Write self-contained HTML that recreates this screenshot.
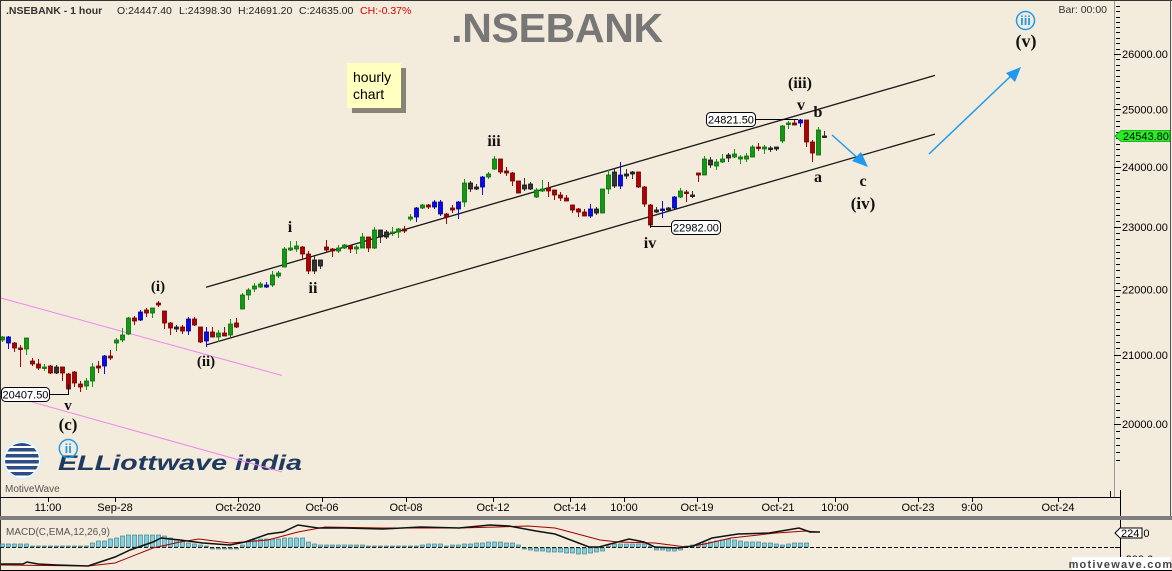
<!DOCTYPE html>
<html><head><meta charset="utf-8">
<style>
html,body{margin:0;padding:0;background:#f3ebdb;overflow:hidden;}
svg{display:block;}
text{font-family:"Liberation Sans",Arial,sans-serif;}
.ser{font-family:"Liberation Serif","Times New Roman",serif;font-weight:bold;fill:#111;}
</style></head><body>
<svg id="s" width="1172" height="571" viewBox="0 0 1172 571" xmlns="http://www.w3.org/2000/svg">
<rect width="1172" height="571" fill="#f3ebdb"/>

<!-- header -->
<text x="6" y="14" font-size="10.5" font-weight="bold" fill="#333">.NSEBANK - 1 hour</text>
<text x="117" y="14" font-size="10.5" fill="#222">O:24447.40</text>
<text x="179" y="14" font-size="10.5" fill="#222">L:24398.30</text>
<text x="238" y="14" font-size="10.5" fill="#222">H:24691.20</text>
<text x="299" y="14" font-size="10.5" fill="#222">C:24635.00</text>
<text x="360" y="14" font-size="10.5" fill="#dd0000">CH:-0.37%</text>
<text x="557" y="42" font-size="41" font-weight="bold" fill="#777" text-anchor="middle" letter-spacing="-0.3">.NSEBANK</text>
<text x="1107" y="13" font-size="10.5" fill="#333" text-anchor="end">Bar: 00:00</text>

<!-- hourly chart note -->
<rect x="352" y="68" width="54" height="45" fill="#8a8478"/>
<rect x="347" y="63" width="54" height="45" fill="#ffffc0"/>
<text x="353" y="82" font-size="14" fill="#000">hourly</text>
<text x="353" y="99" font-size="14" fill="#000">chart</text>

<!-- logos -->
<defs><clipPath id="gc"><circle cx="22" cy="460" r="17"/></clipPath></defs>
<circle cx="22" cy="460" r="20" fill="#dff0f4"/>
<circle cx="22" cy="460" r="18" fill="#ffffff"/>
<g clip-path="url(#gc)" fill="#2c4d86">
<rect x="0" y="443" width="44" height="3"/>
<rect x="0" y="448" width="44" height="3.5"/>
<rect x="0" y="454" width="44" height="3.5"/>
<rect x="0" y="460" width="44" height="3.5"/>
<rect x="0" y="466" width="44" height="3.5"/>
<rect x="0" y="472" width="44" height="3.5"/>
</g>
<text x="5" y="492" font-size="10" fill="#555">MotiveWave</text>
<text x="58" y="470" font-size="21" font-weight="bold" font-style="italic" fill="#1f3a60" textLength="244" lengthAdjust="spacingAndGlyphs">ELLiottwave india</text>

<!-- pink lines -->
<line x1="0" y1="297.7" x2="282" y2="375.5" stroke="#ee88ee" stroke-width="1"/>
<line x1="0" y1="393" x2="282" y2="472" stroke="#ee88ee" stroke-width="1"/>

<!-- channel lines -->
<line x1="206" y1="287.3" x2="935" y2="75.4" stroke="#1a1a1a" stroke-width="1.3"/>
<line x1="206" y1="345" x2="935" y2="134.1" stroke="#1a1a1a" stroke-width="1.3"/>

<g id="candles"></g>

<!-- blue arrows -->
<line x1="832" y1="135" x2="860" y2="160" stroke="#1e9bf0" stroke-width="1.5"/>
<polygon points="868,167 852,161 861,152" fill="#1e9bf0"/>
<line x1="929" y1="154" x2="1013" y2="74" stroke="#1e9bf0" stroke-width="1.5"/>
<polygon points="1021,67 1015,82 1006,73" fill="#1e9bf0"/>

<!-- price label boxes -->
<polyline points="755,119.5 798,119.5" fill="none" stroke="#000" stroke-width="1"/>
<rect x="706.5" y="112.5" width="49" height="14" rx="4" fill="#fff" stroke="#000"/>
<text x="731" y="123.5" font-size="11" text-anchor="middle" fill="#000">24821.50</text>
<polyline points="650.5,221 650.5,226.5 671,226.5" fill="none" stroke="#000" stroke-width="1"/>
<rect x="671.5" y="220.5" width="49" height="14" rx="4" fill="#fff" stroke="#000"/>
<text x="696" y="231.5" font-size="11" text-anchor="middle" fill="#000">22982.00</text>
<polyline points="50,394.5 68.5,394.5 68.5,384" fill="none" stroke="#000" stroke-width="1"/>
<rect x="1.5" y="387.5" width="48" height="14" rx="4" fill="#fff" stroke="#000"/>
<text x="25.5" y="398.5" font-size="11" text-anchor="middle" fill="#000">20407.50</text>

<!-- wave labels -->
<text class="ser" x="158" y="291" font-size="15" text-anchor="middle">(i)</text>
<text class="ser" x="206" y="366" font-size="15" text-anchor="middle">(ii)</text>
<text class="ser" x="290" y="232" font-size="16" text-anchor="middle">i</text>
<text class="ser" x="313" y="293" font-size="16" text-anchor="middle">ii</text>
<text class="ser" x="494" y="146" font-size="16" text-anchor="middle">iii</text>
<text class="ser" x="650" y="248" font-size="16" text-anchor="middle">iv</text>
<text class="ser" x="800" y="88" font-size="16" text-anchor="middle">(iii)</text>
<text class="ser" x="801" y="110" font-size="16" text-anchor="middle">v</text>
<text class="ser" x="818" y="117" font-size="16" text-anchor="middle">b</text>
<text class="ser" x="818" y="182" font-size="16" text-anchor="middle">a</text>
<text class="ser" x="863" y="186" font-size="16" text-anchor="middle">c</text>
<text class="ser" x="863" y="209" font-size="17" text-anchor="middle">(iv)</text>
<text class="ser" x="1026" y="47" font-size="18" text-anchor="middle">(v)</text>
<text class="ser" x="68" y="410" font-size="15" text-anchor="middle">v</text>
<text class="ser" x="68" y="430" font-size="17" text-anchor="middle">(c)</text>
<circle cx="68.3" cy="448.5" r="9" fill="none" stroke="#1e9bf0" stroke-width="1.5"/>
<text x="68.3" y="453" font-size="13" text-anchor="middle" font-family="Liberation Serif,serif" font-weight="bold" fill="#1e9bf0">ii</text>
<circle cx="1025.5" cy="20.5" r="9" fill="none" stroke="#1e9bf0" stroke-width="1.5"/>
<text x="1025.5" y="25" font-size="13" text-anchor="middle" font-family="Liberation Serif,serif" font-weight="bold" fill="#1e9bf0">iii</text>

<!-- right axis -->
<line x1="1114.5" y1="0" x2="1114.5" y2="497" stroke="#999" stroke-width="1"/>
<g id="yticks"></g>
<polygon points="1115,136 1121,130.5 1170,130.5 1170,141.5 1121,141.5" fill="#22ee22" stroke="#119911" stroke-width="0.8"/>
<text x="1123" y="140" font-size="11" fill="#000">24543.80</text>

<!-- frame -->
<line x1="0.5" y1="0" x2="0.5" y2="571" stroke="#333"/>
<line x1="0" y1="0.5" x2="1172" y2="0.5" stroke="#333"/>
<line x1="1170.5" y1="0" x2="1170.5" y2="516" stroke="#555"/>

<!-- x axis -->
<line x1="0" y1="497.5" x2="1121" y2="497.5" stroke="#000"/>
<line x1="1120.5" y1="490" x2="1120.5" y2="516" stroke="#000"/>
<g id="xaxis"></g>

<!-- separator -->
<rect x="0" y="516" width="1172" height="4" fill="#7f7f7f"/>

<!-- MACD panel -->
<text x="6" y="535" font-size="10" fill="#555">MACD(C,EMA,12,26,9)</text>
<line x1="0" y1="547.5" x2="1115" y2="547.5" stroke="#000" stroke-width="1" stroke-dasharray="4,2"/>
<g id="macd"></g>
<line x1="1120.5" y1="520" x2="1120.5" y2="571" stroke="#000"/>
<line x1="1115" y1="547.5" x2="1120" y2="547.5" stroke="#000"/>
<text x="1122" y="537" font-size="11" fill="#000">250.0</text>
<polygon points="1115,533 1120,528 1142,528 1142,538 1120,538" fill="#fff" stroke="#000" stroke-width="1"/>
<text x="1121" y="537" font-size="11" fill="#000">224</text>
<text x="1122" y="563" font-size="11" fill="#000">-200.0</text>
<rect x="1072" y="557" width="98" height="14" fill="#fff"/>
<text x="1121" y="568" font-size="11" font-weight="bold" fill="#444" text-anchor="middle" letter-spacing="1.2">motivewave.com</text>
<line x1="0" y1="570.5" x2="1172" y2="570.5" stroke="#000"/>
</svg>
<script>
(function(){
var NS="http://www.w3.org/2000/svg";
function el(n,a,p){var e=document.createElementNS(NS,n);for(var k in a)e.setAttribute(k,a[k]);(p||document.getElementById('s')).appendChild(e);return e;}
var C=[
[337,340,336,342,'g'],[337,343,336,349,'b'],[343,348,342,352,'r'],[348,349,345,367,'r'],[338,349,338,355,'g'],
[361,364,358,366,'r'],[364,368,359,370,'r'],[367,368,364,371,'g'],[366,373,365,374,'r'],[367,373,365,374,'k'],
[367,373,367,381,'r'],[374,389,373,395,'r'],[372,383,371,387,'r'],[384,387,381,392,'r'],[381,386,378,390,'g'],
[367,381,363,387,'g'],[366,368,361,373,'r'],[356,366,355,374,'b'],[356,358,350,360,'r'],[340,343,338,351,'g'],
[335,340,328,342,'g'],[318,334,317,335,'g'],[318,321,316,325,'r'],[312,320,310,321,'b'],[310,313,308,317,'r'],
[308,313,308,318,'g'],[303,305,301,307,'r'],[311,323,311,329,'r'],[323,328,322,335,'r'],[327,329,325,332,'k'],
[327,331,325,334,'r'],[319,331,317,335,'b'],[319,325,317,326,'r'],[327,342,327,343,'r'],[332,341,327,347,'b'],
[332,337,327,337,'r'],[333,337,330,342,'g'],[333,336,327,336,'r'],[324,335,319,337,'g'],[323,327,318,328,'r'],
[295,309,293,309,'g'],[290,295,288,300,'g'],[286,289,283,292,'g'],[284,287,282,288,'g'],[285,287,282,288,'b'],
[275,285,271,287,'g'],[273,276,271,278,'g'],[249,267,247,267,'g'],[248,250,241,251,'g'],[246,249,241,252,'g'],
[247,254,246,259,'r'],[254,271,251,274,'r'],[260,271,256,274,'k'],[260,266,260,269,'k'],[247,250,240,252,'r'],
[249,251,248,257,'r'],[248,251,245,253,'g'],[245,248,244,249,'g'],[246,249,245,253,'r'],[247,249,245,254,'g'],
[237,248,233,248,'g'],[237,248,237,252,'r'],[230,248,227,249,'g'],[230,237,230,243,'k'],[232,237,230,239,'k'],
[232,233,227,236,'g'],[229,232,228,238,'g'],[229,231,226,233,'r'],[217,219,214,221,'g'],[208,217,207,222,'b'],
[205,208,204,209,'g'],[205,207,204,209,'r'],[202,207,200,209,'b'],[202,214,200,216,'b'],[214,217,213,224,'r'],
[208,210,205,213,'r'],[202,209,201,219,'b'],[183,202,179,207,'g'],[183,189,181,192,'k'],[187,189,184,190,'k'],
[177,187,176,195,'b'],[174,177,172,179,'g'],[159,169,156,170,'g'],[159,172,159,174,'r'],[171,173,167,176,'r'],
[173,181,172,186,'r'],[181,193,181,193,'r'],[185,189,178,191,'k'],[184,189,182,190,'k'],[190,197,188,198,'g'],
[189,191,180,192,'g'],[188,191,182,197,'r'],[190,195,190,200,'r'],[195,198,192,201,'r'],[198,201,195,201,'r'],
[205,210,205,213,'r'],[209,212,208,217,'r'],[212,216,209,216,'r'],[209,216,204,218,'b'],[209,213,207,215,'k'],
[189,213,189,213,'g'],[175,189,170,194,'g'],[172,186,169,188,'k'],[175,186,162,189,'b'],[174,176,169,179,'k'],
[172,174,171,179,'k'],[172,187,172,188,'r'],[187,204,186,207,'r'],[205,225,204,228,'r'],[210,212,207,213,'k'],
[209,210,201,218,'b'],[208,210,207,212,'k'],[197,208,196,209,'b'],[191,197,188,198,'g'],[192,193,190,202,'r'],
[195,196,191,198,'k'],[173,175,173,182,'r'],[159,175,156,175,'g'],[160,165,157,168,'k'],[162,166,159,170,'g'],
[159,162,154,163,'g'],[155,158,153,162,'k'],[154,157,149,158,'g'],[157,159,155,164,'g'],[156,159,153,162,'g'],
[147,157,145,157,'g'],[147,148,143,151,'r'],[147,149,145,154,'g'],[148,149,146,152,'k'],[147,149,147,151,'k'],
[126,141,125,143,'g'],[123,124,121,129,'g'],[123,125,120,125,'r'],[120,123,119,127,'b'],[120,142,120,147,'r'],
[142,153,140,162,'r'],[130,155,127,155,'g'],[136,137,131,137,'k']
];
var col={g:['#139a13','#0a6a0a'],r:['#b00000','#6a0000'],b:['#0a0aee','#00008a'],k:['#333333','#111111']};
var g=document.getElementById('candles');
for(var i=0;i<C.length;i++){
 var c=C[i],x=6*i,cl=col[c[4]];
 el('line',{x1:x+2.5,y1:c[2],x2:x+2.5,y2:c[3],stroke:cl[0],'stroke-width':1},g);
 var h=Math.max(c[1]-c[0],1.5);
 el('rect',{x:x+0.5,y:c[0],width:4,height:h,fill:cl[0],stroke:cl[1],'stroke-width':0.8},g);
}
// y ticks
var yt=document.getElementById('yticks');
function py(p){return 54+1410*Math.log(26000/p);}
for(var p=19500;p<=27000;p+=100){
 var y=py(p); if(y<4||y>495) continue;
 var yy=Math.round(y)+0.5;
 if(p%1000==0){
  el('line',{x1:1114,y1:yy,x2:1121,y2:yy,stroke:'#000'},yt);
  var t=el('text',{x:1122,y:y+4,'font-size':11,fill:'#000'},yt); t.textContent=p+'.00';
 } else el('line',{x1:1116,y1:yy,x2:1120,y2:yy,stroke:'#000'},yt);
}
// x axis
var xa=document.getElementById('xaxis');
var XL=[[48,'11:00'],[115,'Sep-28'],[238,'Oct-2020'],[322,'Oct-06'],[406,'Oct-08'],[493,'Oct-12'],[570,'Oct-14'],[624,'10:00'],[697,'Oct-19'],[778,'Oct-21'],[835,'10:00'],[918,'Oct-23'],[972,'9:00'],[1058,'Oct-24']];
for(var i=0;i<XL.length;i++){
 el('line',{x1:XL[i][0]+0.5,y1:497,x2:XL[i][0]+0.5,y2:502,stroke:'#000'},xa);
 var t=el('text',{x:XL[i][0],y:511,'font-size':11,fill:'#000','text-anchor':'middle'},xa); t.textContent=XL[i][1];
}
el('line',{x1:1110.5,y1:491,x2:1110.5,y2:497,stroke:'#000'},xa);
// MACD histogram
var m=document.getElementById('macd');
var H=[[0,3],[29,3],[31,1],[88,1],[94,5],[103,6],[115,9],[126,12],[161,12],[172,8],[184,6],[191,3],[207,1],[214,-1],[237,-1],[245,3],[256,8],[302,9],[310,4],[318,2],[417,1],[425,3],[440,3],[448,1],[463,3],[494,5],[513,4],[520,1],[528,-2],[555,-4],[585,-6],[606,-2],[610,3],[648,3],[652,-2],[678,-3],[689,1],[705,4],[731,8],[738,6],[769,4],[784,2],[795,4],[810,4]];
function hi(x){for(var j=0;j<H.length-1;j++){if(x>=H[j][0]&&x<=H[j+1][0]){var f=(x-H[j][0])/(H[j+1][0]-H[j][0]);return H[j][1]+f*(H[j+1][1]-H[j][1]);}}return 0;}
for(var i=0;i<=134;i++){
 var x=6*i+2.5,h=Math.round(hi(x)); if(h==0)h=1;
 var y0=h>0?547-h:548, hh=Math.abs(h);
 el('rect',{x:6*i+0.5,y:y0,width:4,height:hh,fill:'#7fd3e0',stroke:'#3f6f7a','stroke-width':0.6},m);
}
var BL=[[1,564],[23,564],[27,562],[38,564],[57,565],[88,566],[115,557],[130,550],[153,542],[161,538],[180,540],[203,543],[230,545],[245,542],[268,534],[283,532],[298,525],[318,528],[344,528],[383,529],[421,527],[459,528],[490,525],[509,526],[536,531],[555,534],[589,547],[599,547],[629,539],[644,542],[655,547],[678,548],[693,546],[712,538],[738,534],[769,533],[799,528],[810,532],[820,532]];
var RL=[[1,565],[88,566],[115,563],[153,548],[180,542],[199,539],[230,543],[268,540],[298,532],[325,527],[383,528],[459,528],[497,527],[528,526],[555,528],[574,533],[600,540],[618,542],[655,543],[686,547],[705,544],[731,538],[776,533],[806,531],[818,532]];
el('polyline',{points:RL.map(function(p){return p.join(',')}).join(' '),fill:'none',stroke:'#a00000','stroke-width':1},m);
el('polyline',{points:BL.map(function(p){return p.join(',')}).join(' '),fill:'none',stroke:'#111','stroke-width':1.5},m);
})();
</script>
</body></html>
